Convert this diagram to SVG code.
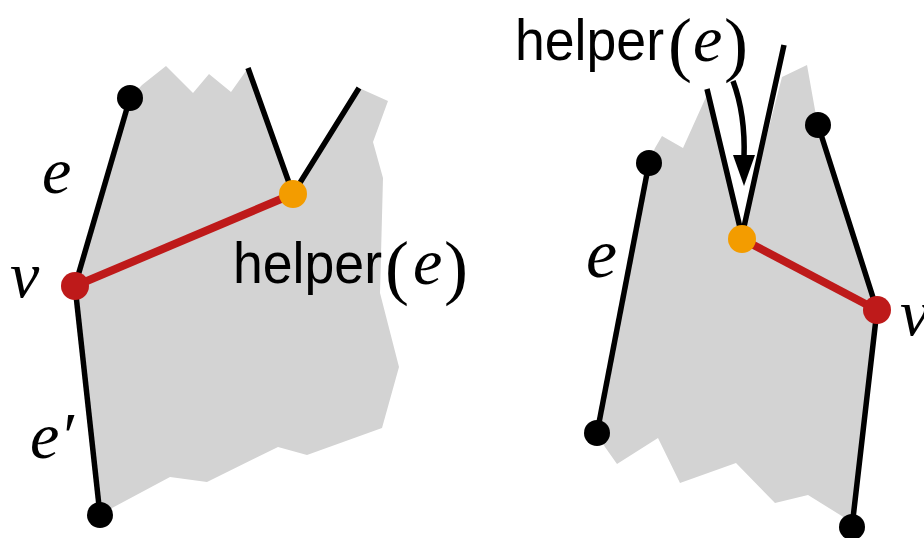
<svg xmlns="http://www.w3.org/2000/svg" width="924" height="538" viewBox="0 0 924 538">
<defs>
<style>
.region{fill:#d3d3d3;stroke:none}
.edge{stroke:#000;stroke-width:5.5;fill:none;stroke-linecap:butt}
.diag{stroke:#be1a1a;stroke-width:8;fill:none}
.dot{fill:#000}
.vtx{fill:#be1a1a}
.helper{fill:#f39c00}
.math{font-family:"Liberation Serif","DejaVu Serif",serif;font-style:italic;fill:#000}
.paren{font-family:"Liberation Serif","DejaVu Serif",serif;fill:#000}
.sans{font-family:"Liberation Sans","DejaVu Sans",sans-serif;fill:#000}
</style>
</defs>
<g id="regions">
<polygon class="region" points="130,98 142,85 166,66 193,93 209,74 231,92 248,68 293,194 359,88 388,101 373,142 383,178 380,293 399,367 382,428 307,455 278,447 207,482 170,477 112,508 100,515 75,286"/>
<polygon class="region" points="649,163 655,148 662,136 683,148 706,97 742,232 782,77 807,65 815,110 818,125 877,310 852,527 845,518 808,495 775,503 736,463 680,483 658,438 617,464 605,447 597,433"/>
</g>
<g id="connectors">
<line class="edge" x1="130" y1="98" x2="75" y2="286"/>
<line class="edge" x1="75" y1="286" x2="100" y2="515"/>
<polyline class="edge" points="248,68 293,194 359,88"/>
<line class="diag" x1="75" y1="286" x2="293" y2="194"/>
<line class="edge" x1="649" y1="163" x2="597" y2="433"/>
<polyline class="edge" points="707,89 742,236 784,45"/>
<polyline class="edge" points="818,125 877,310 852,527"/>
<line class="diag" x1="742" y1="239" x2="877" y2="310"/>
<path class="edge" d="M733,81 C742,105 745,130 744,158"/>
<polygon fill="#000" points="733,155 755,155 744,186"/>
</g>
<g id="node-e-top-left"><circle class="dot" cx="130" cy="98" r="13"/></g>
<g id="node-e-bottom-left"><circle class="dot" cx="100" cy="515" r="13"/></g>
<g id="node-v-left"><circle class="vtx" cx="75" cy="286" r="14"/></g>
<g id="node-helper-left"><circle class="helper" cx="293" cy="194" r="14"/></g>
<g id="node-e-top-right"><circle class="dot" cx="649" cy="163" r="13"/></g>
<g id="node-e-bottom-right"><circle class="dot" cx="597" cy="433" r="13"/></g>
<g id="node-top-right"><circle class="dot" cx="818" cy="125" r="13"/></g>
<g id="node-bottom-right"><circle class="dot" cx="852" cy="527" r="13"/></g>
<g id="node-helper-right"><circle class="helper" cx="742" cy="239" r="14"/></g>
<g id="node-v-right"><circle class="vtx" cx="877" cy="310" r="14"/></g>
<g id="labels">
<text class="math" x="42" y="193" font-size="66">e</text>
<text class="math" x="10" y="297" font-size="66">v</text>
<text class="math" x="30" y="458" font-size="66">e′</text>
<text class="sans" x="233" y="283" font-size="58" textLength="149" lengthAdjust="spacingAndGlyphs">helper</text>
<text class="paren" x="385" y="291" font-size="72">(</text>
<text class="math" x="413" y="284" font-size="66">e</text>
<text class="paren" x="444" y="291" font-size="72">)</text>
<text class="sans" x="515" y="60" font-size="58" textLength="149" lengthAdjust="spacingAndGlyphs">helper</text>
<text class="paren" x="668" y="68" font-size="72">(</text>
<text class="math" x="693" y="61" font-size="66">e</text>
<text class="paren" x="724" y="68" font-size="72">)</text>
<text class="math" x="586" y="277" font-size="70">e</text>
<text class="math" x="900" y="335" font-size="66">v</text>
</g>
</svg>
